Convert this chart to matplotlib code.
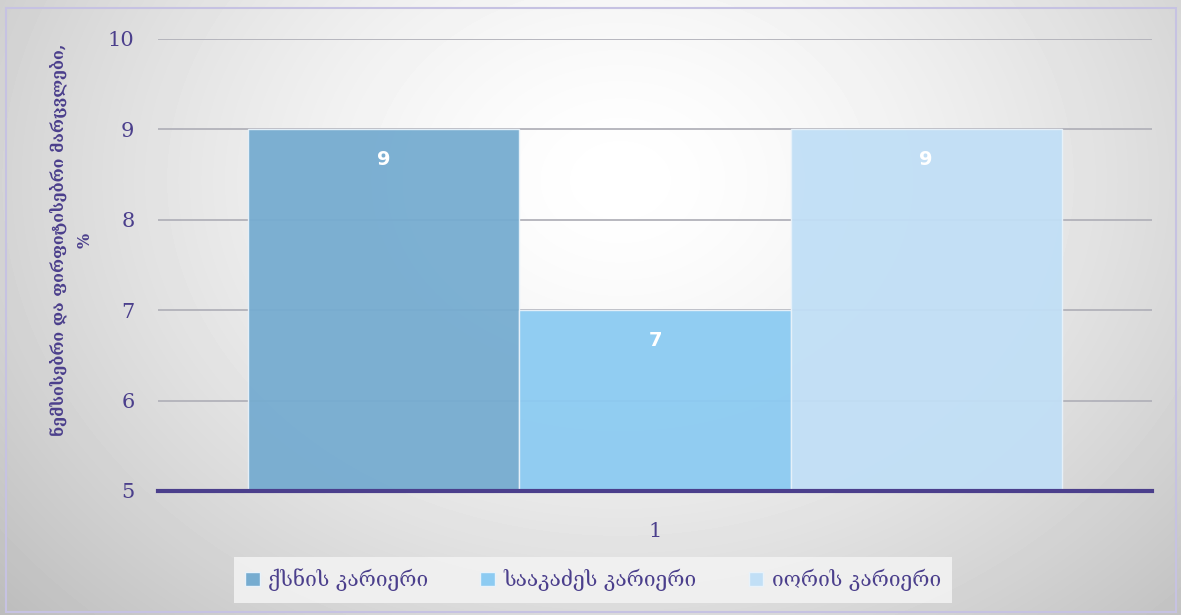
import numpy as np
import matplotlib.pyplot as plt
from matplotlib.patches import Rectangle, Patch

# chart data
categories = ['1']
series_names = ['ქსნის კარიერი', 'სააკაძეს კარიერი', 'იორის კარიერი']
series_values = [9, 7, 9]
series_colors = ['#76acd0', '#8ccbf2', '#c1dff6']
y_ticks = [5, 6, 7, 8, 9, 10]
y_label = 'ნემსისებრი და ფირფიტისებრი მარცვლები,\n%'

text_color = '#4b3f8c'
fonts = ['DejaVu Serif', 'DejaVu Sans']
plt.rcParams['font.family'] = fonts

W, H = 1181, 615
fig = plt.figure(figsize=(W / 100, H / 100), dpi=100)

# radial gradient background
bg = fig.add_axes([0, 0, 1, 1], zorder=-10)
yy, xx = np.mgrid[0:H, 0:W]
r = np.sqrt(((xx - 620) / 740) ** 2 + ((yy - 180) / 580) ** 2)
shade = 1 - 0.22 * np.clip(r, 0, 1.2) ** 1.5
bg.imshow(shade, cmap='gray', vmin=0, vmax=1, extent=[0, 1, 0, 1], aspect='auto')
bg.set_xlim(0, 1)
bg.set_ylim(0, 1)
bg.axis('off')
bg.add_patch(Rectangle((6 / W, 3 / H), 1170 / W, 604 / H, fill=False,
                       edgecolor='#c6c2e2', lw=1.5))

ax = fig.add_axes([158 / W, 1 - 491 / H, 994 / W, 452 / H])
ax.patch.set_alpha(0)

n = len(series_values)
bar_w = 0.2727
for i, (name, v, c) in enumerate(zip(series_names, series_values, series_colors)):
    x = (i - (n - 1) / 2) * bar_w
    ax.bar(x, v, width=bar_w, color=c, alpha=0.95, edgecolor='#e8f2fa', lw=1,
           label=name, zorder=2)
    ax.text(x, v - 0.33, str(v), ha='center', va='center', color='white',
            fontsize=14, fontweight='bold', family='DejaVu Sans', zorder=3)

ax.set_xlim(-0.5, 0.5)
ax.set_ylim(5, 10)
ax.set_yticks(y_ticks)
ax.set_xticks([0])
ax.set_xticklabels(categories)
ax.tick_params(axis='both', length=0, labelcolor=text_color, labelsize=15)
ax.tick_params(axis='y', pad=17)
ax.tick_params(axis='x', pad=22)
ax.yaxis.grid(True, color='#b2b2ba', lw=1.3, zorder=1)
ax.set_axisbelow(True)
for s in ['top', 'right', 'left']:
    ax.spines[s].set_visible(False)
ax.spines['bottom'].set_color(text_color)
ax.spines['bottom'].set_linewidth(3)
ax.spines['bottom'].set_zorder(4)

fig.text(72 / W, 1 - 240 / H, y_label, rotation=90, ha='center', va='center',
         multialignment='center', color=text_color, fontsize=11.5, fontweight='bold',
         linespacing=1.7)

handles = [Patch(facecolor=c, edgecolor='#e8f2fa') for c in series_colors]
leg = fig.legend(handles, series_names, loc='center',
                 bbox_to_anchor=(593 / W, 1 - 580 / H), ncol=3, frameon=True,
                 fontsize=15, handlelength=0.7, handleheight=0.7,
                 handletextpad=0.4, columnspacing=2.5, borderpad=0.55,
                 fancybox=False)
leg.get_frame().set_facecolor('#f2f2f2')
leg.get_frame().set_edgecolor('none')
leg.get_frame().set_alpha(0.9)
for t in leg.get_texts():
    t.set_color(text_color)

fig.savefig('out.png', dpi=100)
